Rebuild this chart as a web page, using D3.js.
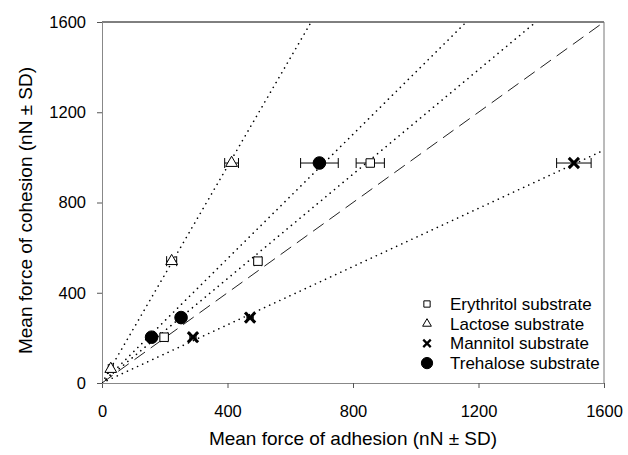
<!DOCTYPE html>
<html>
<head>
<meta charset="utf-8">
<script src="https://cdn.jsdelivr.net/npm/d3@7"></script>
<style>
  html, body { margin: 0; padding: 0; background: #fff; }
  #chart { width: 628px; height: 455px; }
  text { font-family: 'Liberation Sans', Arial, sans-serif; fill: #000; }
</style>
</head>
<body>
<div id="chart"></div>
<script>
(function () {
  'use strict';

  // cohesion vs adhesion, one entry per point: [adhesion, cohesion, sd]
  var erythritol = [[198, 203, 12], [497, 540, 12], [855, 975, 45]];
  var lactose = [[28, 62, 8], [222, 540, 16], [413, 975, 22]];
  var mannitol = [[290, 203, 10], [472, 290, 10], [1504, 975, 55]];
  var trehalose = [[158, 203, 8], [252, 290, 8], [693, 975, 60]];

  // slopes of the fitted dotted lines through the origin
  var fitSlopes = { erythritol: 1.157, lactose: 2.40, mannitol: 0.645, trehalose: 1.378 };

  var xTicks = [0, 400, 800, 1200, 1600];
  var yTicks = [0, 400, 800, 1200, 1600];

  var legendItems = [
    { key: 'erythritol', label: 'Erythritol substrate' },
    { key: 'lactose', label: 'Lactose substrate' },
    { key: 'mannitol', label: 'Mannitol substrate' },
    { key: 'trehalose', label: 'Trehalose substrate' }
  ];

  var width = 628;
  var height = 455;
  var margin = { top: 22, right: 24, bottom: 72, left: 102 };
  var innerW = width - margin.left - margin.right;
  var innerH = height - margin.top - margin.bottom;

  var svg = d3.select('#chart').append('svg')
    .attr('width', width)
    .attr('height', height);

  svg.append('defs').append('clipPath').attr('id', 'plot-clip')
    .append('rect').attr('width', innerW).attr('height', innerH);

  var g = svg.append('g').attr('transform', 'translate(' + margin.left + ',' + margin.top + ')');

  var x = d3.scaleLinear().domain([0, 1600]).range([0, innerW]);
  var y = d3.scaleLinear().domain([0, 1600]).range([innerH, 0]);

  // frame
  g.append('line').attr('x1', 0).attr('x2', innerW).attr('y1', 0).attr('y2', 0)
    .attr('stroke', '#000').attr('stroke-width', 1);
  g.append('line').attr('x1', innerW).attr('x2', innerW).attr('y1', 0).attr('y2', innerH)
    .attr('stroke', '#777').attr('stroke-width', 1);

  var xAxis = g.append('g')
    .attr('transform', 'translate(0,' + innerH + ')')
    .call(d3.axisBottom(x).tickValues(xTicks).tickSize(5).tickPadding(17).tickFormat(d3.format('d')));
  var yAxis = g.append('g')
    .call(d3.axisLeft(y).tickValues(yTicks).tickSize(5).tickPadding(11).tickFormat(d3.format('d')));

  [xAxis, yAxis].forEach(function (ax) {
    ax.select('.domain').attr('stroke', '#888');
    ax.selectAll('.tick line').attr('stroke', '#555');
    ax.selectAll('.tick text').attr('font-size', '16.5px').attr('fill', '#000')
      .attr('font-family', "'Liberation Sans', Arial, sans-serif");
  });

  var lines = g.append('g').attr('clip-path', 'url(#plot-clip)');

  // 1:1 reference line
  lines.append('line')
    .attr('x1', x(0)).attr('y1', y(0)).attr('x2', x(1600)).attr('y2', y(1600))
    .attr('stroke', '#222').attr('stroke-width', 1)
    .attr('stroke-dasharray', '13,7');

  Object.keys(fitSlopes).forEach(function (k) {
    var s = fitSlopes[k];
    var xEnd = Math.min(1600, 1600 / s);
    lines.append('line')
      .attr('x1', x(0)).attr('y1', y(0)).attr('x2', x(xEnd)).attr('y2', y(xEnd * s))
      .attr('stroke', '#000').attr('stroke-width', 1.6)
      .attr('stroke-linecap', 'round')
      .attr('stroke-dasharray', '0.1,5.5');
  });

  var symbols = {
    erythritol: { type: d3.symbolSquare, size: 72, fill: '#fff' },
    lactose: { type: d3.symbolTriangle, size: 60, fill: '#fff' },
    mannitol: { type: d3.symbolTimes, size: 70, fill: '#000' },
    trehalose: { type: d3.symbolCircle, size: 125, fill: '#000' }
  };
  var seriesData = { erythritol: erythritol, lactose: lactose, mannitol: mannitol, trehalose: trehalose };

  function drawSymbol(sel, key, scale) {
    var sy = symbols[key];
    var path = sel.append('path')
      .attr('d', d3.symbol().type(sy.type).size(sy.size * scale)())
      .attr('fill', sy.fill)
      .attr('stroke', '#000');
    if (key === 'mannitol') {
      path.attr('stroke-width', 3 * Math.sqrt(scale));
    } else {
      path.attr('stroke-width', 1);
    }
    return path;
  }

  var pts = g.append('g');
  ['erythritol', 'lactose', 'trehalose', 'mannitol'].forEach(function (k) {
    seriesData[k].forEach(function (d) {
      var px = x(d[0]);
      var py = y(d[1]);
      var e0 = x(d[0] - d[2]);
      var e1 = x(d[0] + d[2]);
      var eb = pts.append('g').attr('stroke', '#000').attr('stroke-width', 1);
      eb.append('line').attr('x1', e0).attr('x2', e1).attr('y1', py).attr('y2', py);
      eb.append('line').attr('x1', e0).attr('x2', e0).attr('y1', py - 5).attr('y2', py + 5);
      eb.append('line').attr('x1', e1).attr('x2', e1).attr('y1', py - 5).attr('y2', py + 5);
      var s = pts.append('g').attr('transform', 'translate(' + px + ',' + py + ')');
      drawSymbol(s, k, 1);
    });
  });

  // legend
  var legend = g.append('g').attr('transform', 'translate(325,282)');
  legendItems.forEach(function (item, i) {
    var row = legend.append('g').attr('transform', 'translate(0,' + (i * 19.7) + ')');
    drawSymbol(row.append('g'), item.key, item.key === 'trehalose' ? 0.8 : 0.55);
    row.append('text')
      .attr('x', 23).attr('y', 6)
      .attr('font-size', '17px')
      .text(item.label);
  });

  // axis titles
  svg.append('text')
    .attr('x', margin.left + innerW / 2)
    .attr('y', 445)
    .attr('text-anchor', 'middle')
    .attr('font-size', '19px')
    .text('Mean force of adhesion (nN \u00b1 SD)');

  svg.append('text')
    .attr('transform', 'translate(32,' + (margin.top + innerH / 2 + 8) + ') rotate(-90)')
    .attr('text-anchor', 'middle')
    .attr('font-size', '19px')
    .text('Mean force of cohesion (nN \u00b1 SD)');
})();
</script>
</body>
</html>
